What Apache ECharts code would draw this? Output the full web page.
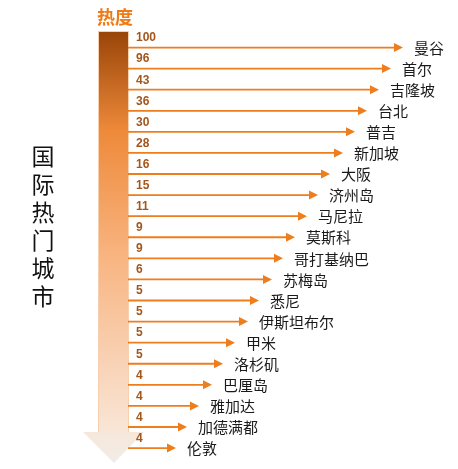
<!DOCTYPE html>
<html>
<head>
<meta charset="utf-8">
<script src="https://cdn.jsdelivr.net/npm/echarts@6/dist/echarts.min.js"></script>
<style>html,body{margin:0;padding:0;background:#fff;}#c{width:458px;height:469px;}</style>
</head>
<body>
<div id="c"></div>
<script>
var cities = ['曼谷','首尔','吉隆坡','台北','普吉','新加坡','大阪','济州岛','马尼拉','莫斯科','哥打基纳巴','苏梅岛','悉尼','伊斯坦布尔','甲米','洛杉矶','巴厘岛','雅加达','加德满都','伦敦'];
var heat = [100,96,43,36,30,28,16,15,11,9,9,6,5,5,5,5,4,4,4,4];
var arrowLen = [275,263,251,239,227,215,202,190,179,167,155,144,131,120,107,95,84,71,59,48];

var chart = echarts.init(document.getElementById('c'), null, {renderer:'canvas'});
var FONT = '"Noto Sans CJK SC", "Noto Sans", sans-serif';

chart.setOption({
  animation: false,
  grid: {left: 128, right: 0, top: 37, bottom: 10.4},
  xAxis: {type: 'value', min: 0, max: 330, show: false},
  yAxis: {type: 'category', data: cities, inverse: true, show: false},
  graphic: [
    {
      type: 'rect', left: 98, top: 31, z: 1,
      shape: {x: 0, y: 0, width: 30, height: 401},
      style: {
        fill: new echarts.graphic.LinearGradient(0, 0, 0, 1, [
          {offset: 0, color: '#984408'},
          {offset: 0.25, color: '#ee8a3a'},
          {offset: 0.55, color: '#f8b37e'},
          {offset: 1, color: '#f9e6d8'}
        ]),
        stroke: '#f6cfae', lineWidth: 1
      }
    },
    {
      type: 'polygon', z: 1,
      shape: {points: [[83, 432], [144, 432], [114, 463]]},
      style: {
        fill: new echarts.graphic.LinearGradient(0, 0, 0, 1, [
          {offset: 0, color: '#f7e7da'},
          {offset: 1, color: '#f1ece8'}
        ])
      }
    },
    {
      type: 'text', left: 97, top: 8,
      style: {text: '热度', fill: '#f07a14', font: 'bold 18px ' + FONT}
    },
    {
      type: 'text', x: 43, y: 142,
      style: {text: '国\n际\n热\n门\n城\n市', fill: '#111', font: '23px ' + FONT,
        lineHeight: 28, align: 'center', verticalAlign: 'top'}
    }
  ],
  series: [{
    type: 'custom',
    coordinateSystem: 'cartesian2d',
    data: arrowLen.map(function (v, i) { return [v, i]; }),
    encode: {x: 0, y: 1},
    renderItem: function (params, api) {
      var i = api.value(1);
      var s = api.coord([0, i]);
      var e = api.coord([api.value(0), i]);
      var y = e[1];
      return {
        type: 'group',
        children: [
          {type: 'line', shape: {x1: s[0], y1: y, x2: e[0] - 7, y2: y},
            style: {stroke: '#ee7d1e', lineWidth: 1.8}},
          {type: 'polygon', shape: {points: [[e[0] - 9, y - 4.5], [e[0], y], [e[0] - 9, y + 4.5]]},
            style: {fill: '#ee7d1e'}},
          {type: 'text', x: e[0] + 11, y: y + 0.5,
            style: {text: cities[i], fill: '#1a1a1a', font: '15px ' + FONT, verticalAlign: 'middle', align: 'left'}},
          {type: 'text', x: s[0] + 8, y: y - 9.5,
            style: {text: String(heat[i]), fill: '#a3561c', font: 'bold 12px "Liberation Sans", sans-serif', verticalAlign: 'middle', align: 'left'}}
        ]
      };
    }
  }]
});
</script>
</body>
</html>
